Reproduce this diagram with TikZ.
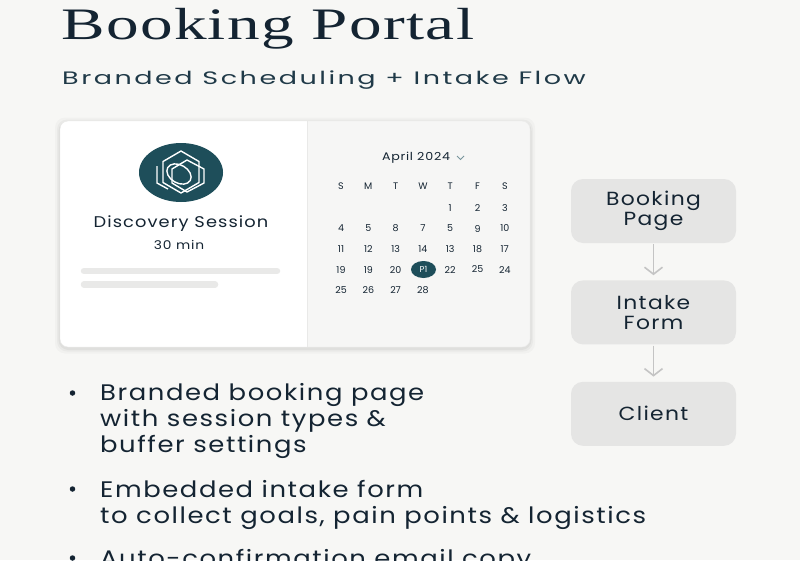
\documentclass[tikz,border=0pt]{standalone}
\usepackage{fontspec}
\setmainfont{Liberation Serif}
\setsansfont{Poppins}
\newfontfamily\TitleFont[FakeStretch=1.45,LetterSpace=3]{Liberation Serif}
\newfontfamily\SubFont[FakeStretch=1.5,LetterSpace=14]{Poppins}
\newfontfamily\WideFont[FakeStretch=1.15,LetterSpace=7]{Poppins}
\usepackage{xcolor}
\definecolor{Col1}{RGB}{20,36,50}
\definecolor{Col2}{RGB}{30,78,90}
\definecolor{Col3}{RGB}{229,229,228}
\definecolor{Col4}{RGB}{247,247,245}
\definecolor{Col5}{RGB}{196,196,196}
\definecolor{Col6}{RGB}{246,246,245}
\definecolor{Col7}{RGB}{233,233,232}
\definecolor{Col8}{RGB}{32,58,72}
\usepackage{tikz}
\usetikzlibrary{positioning}
\usetikzlibrary{shapes.geometric}
\usetikzlibrary{arrows.meta}
\tikzstyle{FlowBox}=[rounded corners=12pt,fill=Col3,minimum width=165pt,
minimum height=64pt,align=center,text=Col1,
font=\WideFont\fontsize{19}{20.5}\selectfont]
\tikzstyle{Flow}=[draw=Col5,line width=1.6pt,
-{Straight Barb[length=7pt,width=18pt,line width=1.6pt]}]
\tikzstyle{DayNum}=[text=Col1,inner sep=0pt,
font=\sffamily\fontsize{9.5}{10}\selectfont]
\tikzstyle{Bullet}=[anchor=base west,align=left,inner sep=0pt,text=Col1,
font=\WideFont\fontsize{22.5}{26}\selectfont]
\tikzstyle{Dot}=[circle,fill=Col1,inner sep=0pt,minimum size=5.5pt]
\tikzstyle{Bar}=[draw=Col7,line width=6.5pt,line cap=round]

\begin{document}
\begin{tikzpicture}[x=1pt,y=-1pt]
            \fill[Col4](0,0)rectangle(800,560);
            \useasboundingbox(0,0)rectangle(800,560);
            \clip(0,0)rectangle(800,560);
            % title
            \node[anchor=base west,inner sep=0pt,text=Col1,
                font=\TitleFont\fontsize{45}{45}\selectfont](title)at(61,39)
                {Booking Portal};
            \node[anchor=base west,inner sep=0pt,text=Col8,
                font=\SubFont\fontsize{18}{18}\selectfont](sub)at(62,84)
                {Branded Scheduling + Intake Flow};
            % card
            \foreach \s/\o in {5/0.025,3/0.03,1.5/0.04}
                \fill[black,opacity=\o,rounded corners=10pt]
                    (60-\s,121-\s+1.5)rectangle(530+\s,347+\s+1.5);
            \fill[white,rounded corners=8pt](60,121)rectangle(530,347);
            \begin{scope}
                \clip[rounded corners=8pt](60,121)rectangle(530,347);
                \fill[Col6](307,121)rectangle(530,347);
            \end{scope}
            \draw[Col7](307,121)--(307,347);
            \draw[Col7,rounded corners=8pt](60,121)rectangle(530,347);
            % logo
            \node[ellipse,fill=Col2,minimum width=84pt,minimum height=59pt,
                inner sep=0pt](logo)at(181,172.5){};
            \draw[white,line width=1.4pt,line join=round]
                (181,151)--(199,161.5)--(199,182.5)--(181,193)
                --(163,182.5)--(163,161.5)--cycle;
            \draw[white,line width=1.4pt,line join=round]
                (187,160)--(204,169)--(204,183)--(187,192)
                --(172,183)--(172,169)--cycle;
            \draw[white,line width=1.4pt]
                (157,166)--(157,183)--(168,189);
            \draw[white,line width=1.4pt,rotate around={-30:(179,174)}]
                (179,174)ellipse(13pt and 9pt);
            \node[text=Col1,font=\WideFont\fontsize{15.5}{16}\selectfont]
                (sess)at(181,224){Discovery Session};
            \node[text=Col1,font=\WideFont\fontsize{12}{12}\selectfont]
                (len)at(179,244.5){30 min};
            \draw[Bar](84,271)--(277,271);
            \draw[Bar](84,284.5)--(215,284.5);
            % calendar
            \node[text=Col1,font=\WideFont\fontsize{11}{11}\selectfont]
                (month)at(416,158){April 2024};
            \draw[Col2!60,line width=.8pt](457,156)--(460.5,159.5)--(464,156);
            \foreach \d [count=\c from 0] in {S,M,T,W,T,F,S}
                \node[DayNum](h\c)at(341+27.3*\c,186.5){\d};
            \foreach \d [count=\c from 4] in {1,2,3}
                \node[DayNum](a\c)at(341+27.3*\c,208){\d};
            \foreach \d [count=\c from 0] in {4,5,8,7,5,9,10}
                \node[DayNum](b\c)at(341+27.3*\c,228.5){\d};
            \foreach \d [count=\c from 0] in {11,12,13,14,13,18,17}
                \node[DayNum](c\c)at(341+27.3*\c,249){\d};
            \foreach \d [count=\c from 0] in {19,19,20,,22,25,24}
                \node[DayNum](d\c)at(341+27.3*\c,269.5){\d};
            \node[ellipse,fill=Col2,minimum width=25pt,minimum height=17pt,
                inner sep=0pt,text=white,font=\sffamily\fontsize{8.5}{9}\selectfont]
                (today)at(423.5,269.5){P1};
            \foreach \d [count=\c from 0] in {25,26,27,28}
                \node[DayNum](e\c)at(341+27.3*\c,290){\d};
            % flow
            \node[FlowBox](bp)at(653.5,211){Booking\\Page};
            \node[FlowBox,below=37pt of bp](if){Intake\\Form};
            \node[FlowBox,below=37pt of if](cl){Client};
            \draw[Flow,shorten <=1pt,shorten >=5pt](bp)--(if);
            \draw[Flow,shorten <=1pt,shorten >=5pt](if)--(cl);
            % bullets
            \node[Dot](dot1)at(72.5,393){};
            \node[Bullet](b1)at(100,452)
                {Branded booking page\\with session types \&\\buffer settings};
            \node[Dot](dot2)at(72.5,489){};
            \node[Bullet](b2)at(100,523)
                {Embedded intake form\\to collect goals, pain points \& logistics};
            \node[Dot](dot3)at(72.5,558){};
            \node[Bullet](b3)at(100,566){Auto-confirmation email copy};
        \end{tikzpicture}
\end{document}
